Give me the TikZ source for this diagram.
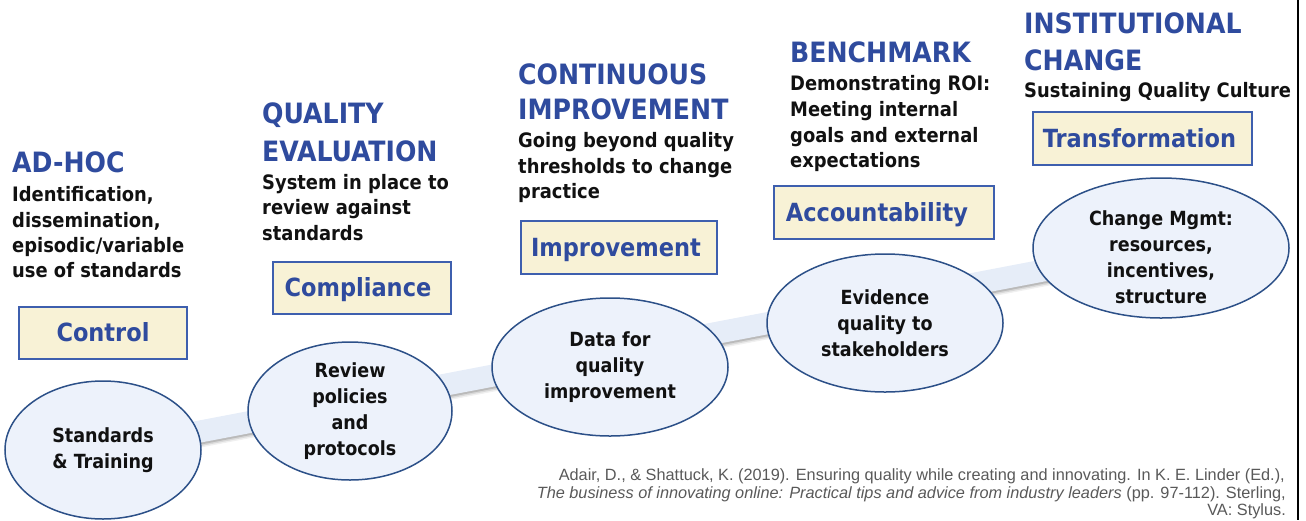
\documentclass[tikz,border=0pt]{standalone}
\usepackage{fontspec}
\setmainfont{DejaVu Sans Condensed}[BoldFont={DejaVu Sans Condensed Bold}]
\newfontfamily\citefont{Liberation Sans}
\usetikzlibrary{shapes.geometric,backgrounds}
\definecolor{titleblue}{HTML}{2F4B9E}
\definecolor{boxblue}{HTML}{3E5FAE}
\definecolor{boxfill}{HTML}{F8F2D6}
\definecolor{ovalblue}{HTML}{2C5088}
\definecolor{ovalfill}{HTML}{EDF2FB}
\definecolor{bandfill}{HTML}{E6EDF8}
\definecolor{bodyblack}{HTML}{111111}
\definecolor{citegrey}{HTML}{595959}
\begin{document}
\begin{tikzpicture}[x=1pt,y=-1pt,
  title/.style={anchor=base west, inner sep=0pt, text=titleblue, font=\fontsize{28}{28}\selectfont\bfseries},
  body/.style={anchor=base west, inner sep=0pt, text=bodyblack, font=\fontsize{19.9}{24}\selectfont\bfseries},
  stagebox/.style={draw=boxblue, line width=1.5pt, fill=boxfill, inner sep=0pt},
  boxtext/.style={anchor=base, inner sep=0pt, text=titleblue, font=\fontsize{25}{25}\selectfont\bfseries},
  oval/.style={ellipse, draw=ovalblue, line width=1.5pt, fill=ovalfill, inner sep=0pt},
  ovaltext/.style={align=center, inner sep=0pt, text=bodyblack, font=\fontsize{19.5}{26}\selectfont\bfseries},
  cite/.style={anchor=base east, inner sep=0pt, text=citegrey, font=\citefont\fontsize{16.3}{16}\selectfont}]
\useasboundingbox (0,0) rectangle (1306,520);

% ovals
\node[oval, minimum width=196, minimum height=138] (e1) at (103,450) {};
\node[oval, minimum width=204, minimum height=138] (e2) at (350,411) {};
\node[oval, minimum width=236, minimum height=138] (e3) at (610,367) {};
\node[oval, minimum width=236, minimum height=138] (e4) at (885,323) {};
\node[oval, minimum width=256, minimum height=140] (e5) at (1161,248) {};

% band behind ovals
\begin{scope}[on background layer]
  \draw[line width=22pt, draw=gray, opacity=0.12] ([yshift=-5pt]e1.center) -- ([yshift=-5pt]e5.center);
  \draw[line width=22pt, draw=gray, opacity=0.2] ([yshift=-3.5pt]e1.center) -- ([yshift=-3.5pt]e5.center);
  \draw[line width=22pt, draw=gray, opacity=0.35] ([yshift=-2pt]e1.center) -- ([yshift=-2pt]e5.center);
  \draw[line width=22pt, draw=bandfill] (e1.center) -- (e5.center);
\end{scope}

\node[ovaltext] (t1) at (e1.center) {Standards\\\& Training};
\node[ovaltext] (t2) at (e2.center) {Review\\policies\\and\\protocols};
\node[ovaltext] (t3) at (e3.center) {Data for\\quality\\improvement};
\node[ovaltext] (t4) at (e4.center) {Evidence\\quality to\\stakeholders};
\node[ovaltext] (t5) at ([yshift=-9pt]e5.center) {Change Mgmt:\\resources,\\incentives,\\structure};

% boxes
\node[stagebox, minimum width=168, minimum height=52] (b1) at (103,333) {};
\node[stagebox, minimum width=178, minimum height=52] (b2) at (362,288) {};
\node[stagebox, minimum width=196, minimum height=53] (b3) at (619,247.5) {};
\node[stagebox, minimum width=220, minimum height=53] (b4) at (884,212.5) {};
\node[stagebox, minimum width=219, minimum height=53] (b5) at (1142.5,138.5) {};
\node[boxtext] (l1) at ([yshift=-8.5pt]b1.center) {Control};
\node[boxtext] (l2) at ([xshift=-4pt,yshift=-8.5pt]b2.center) {Compliance};
\node[boxtext] (l3) at ([xshift=-3pt,yshift=-8.5pt]b3.center) {Improvement};
\node[boxtext] (l4) at ([xshift=-7pt,yshift=-8.5pt]b4.center) {Accountability};
\node[boxtext] (l5) at ([xshift=-3pt,yshift=-8.5pt]b5.center) {Transformation};

% stage 1
\node[title] (h1) at (12,172) {AD-HOC};
\node[body] (d1a) at (12,201) {Identification,};
\node[body] (d1b) at (12,227) {dissemination,};
\node[body] (d1c) at (12,252) {episodic/variable};
\node[body] (d1d) at (12,277) {use of standards};
% stage 2
\node[title] (h2a) at (262,123) {QUALITY};
\node[title] (h2b) at (262,161) {EVALUATION};
\node[body] (d2a) at (262,189) {System in place to};
\node[body] (d2b) at (262,214) {review against};
\node[body] (d2c) at (262,240) {standards};
% stage 3
\node[title] (h3a) at (518,84) {CONTINUOUS};
\node[title] (h3b) at (518,119) {IMPROVEMENT};
\node[body] (d3a) at (518,147) {Going beyond quality};
\node[body] (d3b) at (518,173) {thresholds to change};
\node[body] (d3c) at (518,198) {practice};
% stage 4
\node[title] (h4) at (790,62) {BENCHMARK};
\node[body] (d4a) at (790,90) {Demonstrating ROI:};
\node[body] (d4b) at (790,116) {Meeting internal};
\node[body] (d4c) at (790,142) {goals and external};
\node[body] (d4d) at (790,167) {expectations};
% stage 5
\node[title] (h5a) at (1024,33) {INSTITUTIONAL};
\node[title] (h5b) at (1024,70) {CHANGE};
\node[body] (d5a) at (1024,97) {Sustaining Quality Culture};

% citation
\node[cite] (c1) at (1285,480) {Adair, D., \& Shattuck, K. (2019). Ensuring quality while creating and innovating. In K. E. Linder (Ed.),};
\node[cite] (c2) at (1286,498) {\textit{The business of innovating online: Practical tips and advice from industry leaders} (pp. 97-112). Sterling,};
\node[cite] (c3) at (1286,515) {VA: Stylus.};

% right edge line
\coordinate (rt) at (1297.5,0);
\coordinate (rb) at (1297.5,520);
\draw[line width=2pt, black] (rt) -- (rb);
\end{tikzpicture}
\end{document}
